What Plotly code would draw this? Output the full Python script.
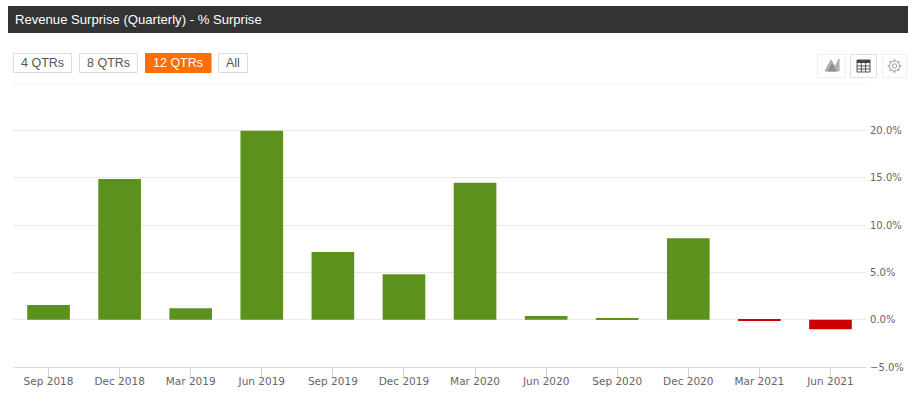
import math
import plotly.graph_objects as go

categories = ["Sep 2018", "Dec 2018", "Mar 2019", "Jun 2019", "Sep 2019", "Dec 2019",
              "Mar 2020", "Jun 2020", "Sep 2020", "Dec 2020", "Mar 2021", "Jun 2021"]
surprise = [1.55, 14.85, 1.2, 19.95, 7.15, 4.8, 14.45, 0.4, 0.08, 8.6, -0.12, -1.0]
y_ticks = [-5, 0, 5, 10, 15, 20, 25]
y_labels = ["\u22125.0%", "0.0%", "5.0%", "10.0%", "15.0%", "20.0%", ""]
colors = ["#5c911e" if v >= 0 else "#cc0000" for v in surprise]

W, H = 916, 410
L, R, T, B = 13, 50, 83, 43

def px(x): return (x - L) / (W - L - R)
def py(y): return 1 - (y - T) / (H - T - B)

shapes, annos = [], []

def rect(x0, y0, x1, y1, fill, line=None, lw=1):
    shapes.append(dict(type="rect", xref="paper", yref="paper", layer="below",
                       x0=px(x0), x1=px(x1), y0=py(y0), y1=py(y1),
                       fillcolor=fill, line=dict(color=line or fill, width=lw if line else 0)))

def path(d, fill="rgba(0,0,0,0)", line="#777", lw=1):
    shapes.append(dict(type="path", xref="paper", yref="paper", layer="above",
                       path=d, fillcolor=fill, line=dict(color=line, width=lw)))

def text(x, y, s, color, size, anchor="center", family="Liberation Sans"):
    annos.append(dict(text=s, xref="paper", yref="paper", x=px(x), y=py(y),
                      xanchor=anchor, yanchor="middle", showarrow=False,
                      font=dict(family=family, color=color, size=size)))

# Header bar
rect(8, 6, 908, 33, "#333333")
text(12.5, 19.5, "Revenue Surprise (Quarterly) - % Surprise", "#ffffff", 13.1, "left")

# Range buttons
for x0, x1, label, active in [(13.5, 71.5, "4 QTRs", False), (79.5, 137.5, "8 QTRs", False),
                              (145.5, 211, "12 QTRs", True), (218.5, 247.5, "All", False)]:
    rect(x0, 53.5, x1, 72.5, "#ff6f06" if active else "#ffffff", "#ff6f06" if active else "#dddddd")
    text((x0 + x1) / 2, 62.5, label, "#ffffff" if active else "#555555", 12.5)

# Toolbar buttons
for x0, x1, edge in [(817.5, 845.5, "#f0f0f0"), (850.5, 876.5, "#e0e0e0"), (882.5, 906.5, "#f0f0f0")]:
    rect(x0, 54.5, x1, 77.5, "#ffffff", edge)

def P(pts, close=True):
    return "M" + " L".join(f"{px(x):.5f},{py(y):.5f}" for x, y in pts) + (" Z" if close else "")

# chart-type icon: two overlapping hatched peaks
path(P([(825, 71), (831, 60), (835, 67), (839, 59), (839, 71)]), fill="#b4b4b4", line="#a8a8a8")
path(P([(828, 71), (832, 64), (836, 71)]), fill="#8f8f8f", line="#8f8f8f")

# table icon
rect(857, 60, 870, 72, "#ffffff", "#555555")
rect(857, 60, 870, 63, "#444444")
for gx in (861.3, 865.6):
    path(P([(gx, 63), (gx, 72)], close=False), line="#555555")
for gy in (66, 69):
    path(P([(857, gy), (870, gy)], close=False), line="#555555")

# gear icon
cx, cy = 894.5, 66
shapes.append(dict(type="circle", xref="paper", yref="paper", x0=px(cx - 5), x1=px(cx + 5),
                   y0=py(cy + 5), y1=py(cy - 5), line=dict(color="#a0a0a0", width=1)))
shapes.append(dict(type="circle", xref="paper", yref="paper", x0=px(cx - 2.2), x1=px(cx + 2.2),
                   y0=py(cy + 2.2), y1=py(cy - 2.2), line=dict(color="#a0a0a0", width=1)))
for k in range(8):
    a = k * math.pi / 4
    path(P([(cx + 5 * math.cos(a), cy + 5 * math.sin(a)),
            (cx + 6.8 * math.cos(a), cy + 6.8 * math.sin(a))], close=False), line="#a0a0a0", lw=1.5)

# Top gridline (the axis omits a grid line on the plot's edge)
shapes.append(dict(type="line", xref="paper", yref="y", x0=0, x1=1, y0=25, y1=25,
                   line=dict(color="#e9e9e9", width=1)))

fig = go.Figure(go.Bar(x=categories, y=surprise, marker=dict(color=colors, line=dict(width=0)),
                       hoverinfo="x+y"))
fig.update_layout(
    width=W, height=H, autosize=False, showlegend=False,
    margin=dict(l=L, r=R, t=T, b=B, pad=0), bargap=0.4,
    paper_bgcolor="#ffffff", plot_bgcolor="#ffffff",
    shapes=shapes, annotations=annos,
    xaxis=dict(type="category", categoryorder="array", categoryarray=categories,
               tickmode="array", tickvals=categories, ticktext=categories, tickangle=0,
               ticks="outside", ticklen=9, tickwidth=1, tickcolor="#d0d0d0", ticklabelstandoff=-5,
               tickfont=dict(family="DejaVu Sans", size=10.5, color="#666666"),
               showgrid=False, zeroline=False, showline=True, linecolor="#dcdcdc", anchor="y"),
    yaxis=dict(side="right", range=[-5, 25], tickmode="array", tickvals=y_ticks, ticktext=y_labels,
               tickfont=dict(family="DejaVu Sans", size=10, color="#666666"), ticklabelstandoff=3,
               ticks="", gridcolor="#e9e9e9", gridwidth=1, zeroline=False, showline=False),
)
fig.write_html("out.html", config=dict(displayModeBar=False),
               post_script="document.body.style.margin='0';")
